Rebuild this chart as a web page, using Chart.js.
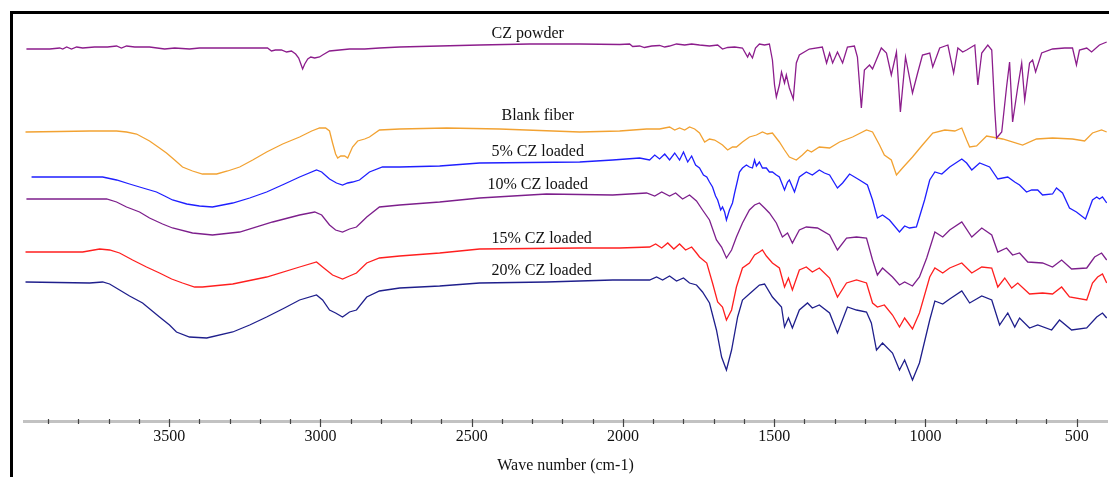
<!DOCTYPE html>
<html>
<head>
<meta charset="utf-8">
<script src="https://cdn.jsdelivr.net/npm/chart.js@4.4.0/dist/chart.umd.min.js"></script>
<style>
  html, body { margin: 0; padding: 0; background: #fff; }
  #wrap { position: relative; width: 1109px; height: 477px; overflow: hidden; }
  #frame { position: absolute; left: 10px; top: 11px; width: 1120px; height: 480px;
           border-left: 3px solid #000; border-top: 3px solid #000; }
  #c { position: absolute; left: 0; top: 0; }
</style>
</head>
<body>
<div id="wrap">
  <div id="frame"></div>
  <canvas id="c" width="1109" height="477"></canvas>
</div>
<script>
// FTIR spectra, wavenumber (cm-1) vs transmittance (a.u., stacked)
var czPowderWn = [3972,3952,3895,3862,3852,3839,3823,3806,3786,3747,3704,3674,3658,3641,3614,3565,3515,3482,3433,3400,3301,3175,3162,3149,3129,3112,3096,3082,3072,3066,3059,3052,3042,3032,3019,3003,2993,2970,2937,2904,2854,2805,2738,2606,2474,2309,2143,2011,1978,1968,1945,1929,1905,1879,1862,1846,1823,1796,1773,1747,1714,1687,1671,1654,1631,1605,1588,1582,1572,1562,1549,1532,1516,1506,1499,1493,1483,1476,1466,1460,1450,1437,1427,1417,1384,1341,1327,1317,1307,1291,1274,1258,1235,1225,1212,1202,1185,1175,1146,1129,1113,1096,1083,1066,1043,1026,1010,986,976,953,926,907,893,877,864,837,827,814,794,781,771,765,748,732,722,712,695,682,672,656,646,636,616,580,540,514,501,491,467,451,425,401];
var czPowderT  = [372,372,372,373,372,374,372,374,373,374,374,375,373,375,374,374,372,373,372,373,373,373,370,371,371,369,370,367,363,358,352,357,362,364,363,364,366,370,371,372,372,373,374,375,376,377,377,376.5,377,374.5,375,373.5,375,375.5,374,375,377,376,377,376,375,376,372,373.5,374,373,364,368,363,373,377,376,377,361,336,324,336,349,338,346,333,322,358,366,372,374,358,368,358,369,358,374,375,364,313,351,356,352,373,368,346,369,309,364,328,348,366,368,354,373,376,348,373,369,371,376,336,368,376,371,311,283,289,334,359,299,334,358,321,358,361,349,368,372,373,373,356,371,373,369,376,379];

var blankWn = [3975,3862,3763,3674,3641,3608,3565,3532,3509,3482,3456,3423,3390,3343,3307,3267,3224,3178,3125,3069,3029,3003,2983,2970,2960,2950,2943,2933,2920,2910,2894,2877,2854,2838,2805,2738,2583,2408,2143,2011,1922,1879,1846,1829,1813,1796,1780,1763,1747,1730,1714,1697,1681,1671,1654,1638,1625,1605,1582,1559,1539,1523,1506,1483,1466,1450,1427,1407,1390,1377,1351,1317,1284,1241,1195,1175,1152,1136,1113,1096,1076,1043,1010,976,936,903,880,864,854,831,798,745,679,633,580,514,474,448,418,401];
var blankT  = [289,289.5,290,290,289,287,280,273,268,261,254,250,247,247,250,254,261,269,277,284,290,293,293,290,278,267,263,265,265,263,274,280,282,284,291,292,293,292,289,290,292,292,294,291,293,291,294,292,288,279,282,281,278,276,271,274,274,279,284,286,289,287,288,279,271,264,261,266,271,269,274,273,279,284,291,289,276,266,261,246,253,264,276,288,291,290,293,281,274,275,285,282,276,282,283,282,280,288,291,289];

var cz5Wn = [3955,3829,3720,3674,3631,3598,3542,3515,3489,3442,3400,3357,3290,3234,3178,3119,3069,3013,2996,2970,2947,2927,2910,2894,2871,2838,2795,2738,2606,2474,2309,2143,2034,1945,1912,1895,1879,1862,1846,1829,1813,1800,1786,1773,1760,1747,1734,1723,1714,1704,1694,1687,1677,1671,1664,1658,1648,1638,1631,1621,1615,1605,1592,1582,1572,1565,1559,1549,1539,1526,1516,1506,1493,1483,1466,1456,1450,1433,1417,1394,1374,1351,1334,1317,1291,1274,1251,1218,1192,1175,1159,1142,1119,1086,1069,1053,1030,1020,1003,986,969,946,920,880,864,847,821,788,761,728,705,689,666,649,629,613,580,567,547,524,501,471,448,434,425,415,401];
var cz5T  = [244,244,244,241,237,234,229,225,221,217,215,214,218,223,229,237,244,251,249,242,238,236,238,239,241,249,254,254,255,258,258.5,259,261,263,261,266,262,267,261,268,261,269,259,265,256,253,246,244,239,234,225,221,211,214,209,201,211,218,228,241,249,253,256,254,253,261,255,259,253,253,249,249,246,244,231,239,241,229,244,249,246,251,248,246,233,238,247,241,236,221,203,206,201,189,195,193,194,204,221,241,249,247,254,262,258,251,258,254,242,244,239,236,229,231,231,226,227,233,228,213,209,202,221,224,222,224,218];

var cz10Wn = [3972,3707,3674,3641,3598,3565,3522,3489,3423,3357,3267,3158,3069,3019,2996,2970,2950,2927,2904,2881,2864,2847,2805,2738,2606,2474,2253,2034,1922,1895,1872,1846,1826,1803,1780,1757,1737,1714,1691,1674,1658,1641,1625,1605,1582,1565,1549,1532,1516,1493,1473,1456,1440,1417,1394,1357,1317,1291,1261,1228,1195,1175,1159,1142,1109,1086,1069,1043,1020,996,969,943,920,880,847,814,781,761,732,712,689,662,613,580,550,517,467,441,418,401];
var cz10T  = [222,222,219,214,209,203,197,193,188,186,189,199,206,209,206,196,191,189,192,194,199,204,214,216,219,223,227,226,228,225,229,225,228,222,226,220,211,201,181,174,163,171,184,198,211,216,218,213,208,198,184,188,178,191,194,193,186,171,183,184,183,161,146,153,144,136,139,135,144,163,189,184,191,199,184,193,186,169,173,166,168,159,158,154,161,152,153,164,168,161];

var cz15Wn = [3975,3786,3730,3697,3664,3621,3575,3532,3492,3456,3416,3390,3290,3178,3069,3013,2993,2960,2927,2904,2881,2847,2805,2738,2606,2474,2143,2011,1912,1892,1872,1852,1832,1813,1793,1773,1757,1747,1723,1704,1687,1671,1658,1641,1625,1605,1582,1565,1549,1539,1526,1506,1483,1466,1453,1440,1417,1394,1374,1351,1317,1291,1261,1228,1195,1175,1159,1136,1109,1086,1069,1043,1020,986,969,943,920,880,847,814,781,761,738,715,695,656,613,580,550,524,467,448,431,415,401];
var cz15T  = [169,169,172,171,168,161,154,148,142,138,134,134,137,144,154,159,154,146,142,145,148,158,163,165,168,172,173,173,174,177,173,178,172,177,171,174,168,164,158,138,119,114,101,111,134,153,158,166,169,171,165,158,153,134,143,131,151,154,149,153,143,124,138,141,138,118,114,116,106,94,103,92,108,144,153,148,153,158,148,154,153,134,143,133,138,127,128,127,134,124,121,138,144,147,138];

var cz20Wn = [3975,3763,3720,3697,3664,3631,3588,3532,3499,3476,3433,3376,3290,3234,3178,3119,3069,3013,2993,2970,2950,2927,2904,2881,2847,2805,2738,2606,2474,2253,2034,1912,1889,1869,1846,1823,1800,1780,1757,1737,1714,1691,1674,1658,1641,1621,1605,1575,1549,1532,1506,1476,1466,1453,1440,1417,1390,1374,1351,1317,1291,1258,1228,1195,1179,1162,1142,1109,1086,1069,1043,1020,986,969,943,920,880,854,814,781,755,728,705,689,656,629,583,557,517,467,434,415,401];
var cz20T  = [139,138,139,137,131,125,118,104,96,89,84,83,89,96,104,113,121,126,121,111,108,104,109,111,124,130,133,135,138,139,141,141,144,141,145,140,143,138,136,129,118,91,64,51,71,104,121,129,136,137,124,114,94,103,93,111,118,113,116,108,88,114,111,109,98,71,78,68,51,61,41,58,101,120,117,122,130,118,125,121,96,108,94,103,93,96,91,101,91,93,104,108,103];

var seriesNames  = ['CZ powder', 'Blank fiber', '5% CZ loaded', '10% CZ loaded', '15% CZ loaded', '20% CZ loaded'];
var seriesColors = ['#8c1d8c', '#f2a232', '#1f1fff', '#7d1f8c', '#ff1f1f', '#1f1f8c'];
var seriesWn = [czPowderWn, blankWn, cz5Wn, cz10Wn, cz15Wn, cz20Wn];
var seriesT  = [czPowderT, blankT, cz5T, cz10T, cz15T, cz20T];

// label anchors in data units (wavenumber, a.u.)
var labelWn = [2315, 2282, 2282, 2282, 2269, 2269];
var labelT  = [387, 305, 269, 236, 182, 150];

var minorTicks = [];
for (var v = 500; v <= 3900; v += 100) minorTicks.push(v);

var serif = "'Liberation Serif', 'Times New Roman', serif";

var datasets = seriesNames.map(function(name, i) {
    return {
        label: name,
        data: seriesWn[i].map(function(w, j) { return { x: w, y: seriesT[i][j] }; }),
        borderColor: seriesColors[i],
        borderWidth: 1.3,
        pointRadius: 0,
        fill: false,
        tension: 0
    };
});

var decorPlugin = {
    id: 'decor',
    afterDatasetsDraw: function(chart) {
        var ctx = chart.ctx;
        var xs = chart.scales.x, ys = chart.scales.y;
        ctx.save();
        // tick marks across the axis line
        var y0 = xs.top;
        ctx.strokeStyle = '#444';
        ctx.lineWidth = 1.2;
        minorTicks.forEach(function(t) {
            var px = Math.round(xs.getPixelForValue(t)) + 0.5;
            ctx.beginPath();
            ctx.moveTo(px, y0 - 2);
            ctx.lineTo(px, y0 + (t % 500 === 0 ? 6 : 3));
            ctx.stroke();
        });
        // series labels
        ctx.fillStyle = '#111';
        ctx.font = '16px ' + serif;
        ctx.textAlign = 'center';
        ctx.textBaseline = 'middle';
        seriesNames.forEach(function(name, i) {
            ctx.fillText(name, xs.getPixelForValue(labelWn[i]), ys.getPixelForValue(labelT[i]));
        });
        ctx.restore();
    }
};

new Chart(document.getElementById('c').getContext('2d'), {
    type: 'line',
    data: { datasets: datasets },
    options: {
        responsive: false,
        animation: false,
        devicePixelRatio: 1,
        layout: { padding: { left: 24, right: 2, top: 12, bottom: 0 } },
        plugins: { legend: { display: false }, tooltip: { enabled: false } },
        scales: {
            x: {
                type: 'linear',
                reverse: true,
                min: 400,
                max: 3980,
                afterBuildTicks: function(scale) {
                    scale.ticks = minorTicks.map(function(t) { return { value: t }; });
                },
                afterFit: function(scale) { scale.height = 56; },
                grid: { display: false, drawTicks: false },
                border: { display: true, color: '#c2c2c2', width: 3 },
                ticks: {
                    autoSkip: false,
                    maxRotation: 0,
                    padding: 6,
                    color: '#111',
                    font: { family: serif, size: 16 },
                    callback: function(v) { return v % 500 === 0 ? String(v) : ''; }
                },
                title: {
                    display: true,
                    text: 'Wave number (cm-1)',
                    color: '#111',
                    font: { family: serif, size: 16 },
                    padding: { top: 4, bottom: 2 }
                }
            },
            y: {
                display: false,
                min: 0,
                max: 409
            }
        }
    },
    plugins: [decorPlugin]
});
</script>
</body>
</html>
